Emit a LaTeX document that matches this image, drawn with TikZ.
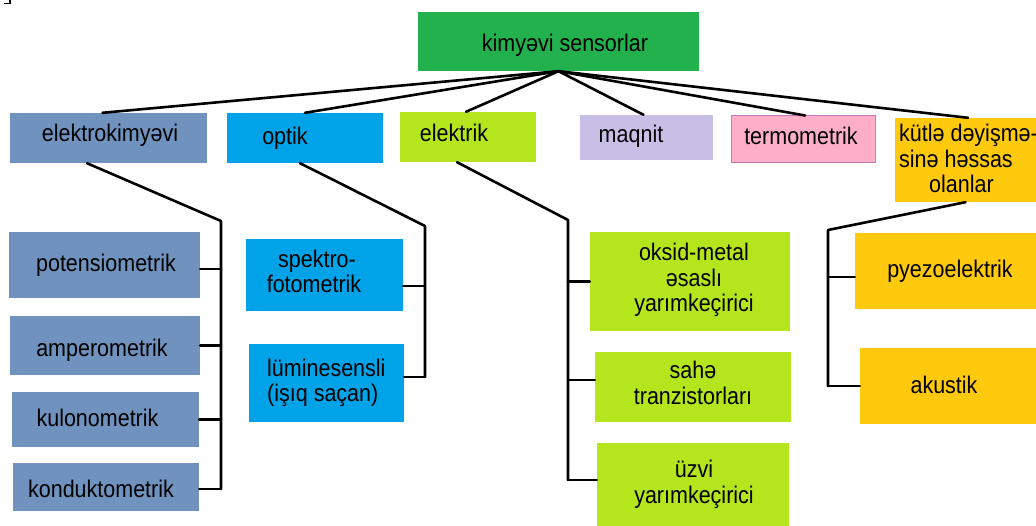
\documentclass[tikz,border=0pt]{standalone}
\usepackage{graphicx}
\usepackage{fontspec}
\setmainfont{Liberation Sans}
\definecolor{cRoot}{HTML}{22B14C}
\definecolor{cElk}{HTML}{7092BE}
\definecolor{cOpt}{HTML}{00A2E8}
\definecolor{cEle}{HTML}{B5E61D}
\definecolor{cMag}{HTML}{C8BFE7}
\definecolor{cTer}{HTML}{FFAEC9}
\definecolor{cTerEdge}{HTML}{C878B8}
\definecolor{cKut}{HTML}{FFC90E}
% slightly condensed-looking lettering: stretch each line vertically
\newcommand\tline[1]{\scalebox{1}[1.12]{#1}}
\begin{document}
\begin{tikzpicture}[x=1pt,y=-1pt,
  box/.style={rectangle, inner sep=0pt, draw=none},
  lbl/.style={anchor=base, inner sep=0pt, font=\fontsize{21.5}{25.5}\selectfont, align=center},
  wire/.style={line width=2.6pt, line cap=round, line join=round}]
\useasboundingbox (0,0) rectangle (1036,526);

% small corner mark
\draw[line width=1.5pt] (10,0) -- (10,3.5) -- (4,3.5);

% ---- boxes ----
\node[box, fill=cRoot, minimum width=281pt, minimum height=59pt] (root) at (558.5,41.5) {};

\node[box, fill=cElk, minimum width=197pt, minimum height=50pt] (elk) at (108.5,138) {};
\node[box, fill=cOpt, minimum width=156pt, minimum height=50pt] (opt) at (305,138) {};
\node[box, fill=cEle, minimum width=136pt, minimum height=50pt] (ele) at (468,137) {};
\node[box, fill=cMag, minimum width=133pt, minimum height=45pt] (mag) at (646.5,137.5) {};
\node[box, fill=cTer, draw=cTerEdge, line width=1pt, minimum width=144pt, minimum height=47pt] (ter) at (803,139.5) {};
\node[box, fill=cKut, minimum width=141pt, minimum height=84pt] (kut) at (965.5,160) {};

\node[box, fill=cElk, minimum width=191pt, minimum height=66pt] (pot) at (104.5,265) {};
\node[box, fill=cElk, minimum width=190pt, minimum height=59pt] (amp) at (105,345.5) {};
\node[box, fill=cElk, minimum width=187pt, minimum height=55pt] (kul) at (105.5,419.5) {};
\node[box, fill=cElk, minimum width=186pt, minimum height=48pt] (kon) at (106,487) {};

\node[box, fill=cOpt, minimum width=157pt, minimum height=72pt] (spe) at (324.5,275) {};
\node[box, fill=cOpt, minimum width=155pt, minimum height=78pt] (lum) at (326.5,383) {};

\node[box, fill=cEle, minimum width=200pt, minimum height=99pt] (oks) at (690,281.5) {};
\node[box, fill=cEle, minimum width=196pt, minimum height=70pt] (sah) at (693,387) {};
\node[box, fill=cEle, minimum width=192pt, minimum height=83pt] (uzv) at (693,484.5) {};

\node[box, fill=cKut, minimum width=181pt, minimum height=76pt] (pye) at (945.5,271) {};
\node[box, fill=cKut, minimum width=176pt, minimum height=76pt] (aku) at (948,386) {};

% ---- labels (base anchor = baseline of the last line) ----
\node[lbl] (troot) at (565,52) {\tline{kimyəvi sensorlar}};
\node[lbl] (telk) at (110,142) {\tline{elektrokimyəvi}};
\node[lbl] (topt) at (285,145) {\tline{optik}};
\node[lbl] (tele) at (454,142) {\tline{elektrik}};
\node[lbl] (tmag) at (631,143) {\tline{maqnit}};
\node[lbl] (tter) at (801,145) {\tline{termometrik}};
\node[lbl, anchor=base west, align=left] (tkut) at (899,193)
  {\tline{kütlə dəyişmə-}\\\tline{sinə həssas}\\\hspace*{30pt}\tline{olanlar}};

\node[lbl] (tpot) at (106,272) {\tline{potensiometrik}};
\node[lbl] (tamp) at (102,357) {\tline{amperometrik}};
\node[lbl] (tkul) at (97.5,426) {\tline{kulonometrik}};
\node[lbl] (tkon) at (101,497) {\tline{konduktometrik}};

\node[lbl] (tspe) at (314,293) {\hspace*{6pt}\tline{spektro-}\\\tline{fotometrik}};
\node[lbl, anchor=base west, align=left] (tlum) at (267,402) {\tline{lüminesensli}\\\tline{(işıq saçan)}};

\node[lbl] (toks) at (694,312) {\tline{oksid-metal}\\\tline{əsaslı}\\\tline{yarımkeçirici}};
\node[lbl] (tsah) at (693,404) {\tline{sahə}\\\tline{tranzistorları}};
\node[lbl] (tuzv) at (694,503) {\tline{üzvi}\\\tline{yarımkeçirici}};

\node[lbl] (tpye) at (950,278) {\tline{pyezoelektrik}};
\node[lbl] (taku) at (944,393) {\tline{akustik}};

% ---- connectors: root to first level ----
\draw[wire] (root.south) -- ([xshift=-6pt]elk.north);
\draw[wire] (root.south) -- (opt.north);
\draw[wire] (root.south) -- ([xshift=-2pt]ele.north);
\draw[wire] (root.south) -- ([xshift=-3pt]mag.north);
\draw[wire] (root.south) -- ([xshift=2pt]ter.north);
\draw[wire] (root.south) -- ([xshift=2.5pt]kut.north);

% ---- attachment points on the child boxes ----
\coordinate (potp) at ([yshift=-4pt]pot.east);
\coordinate (konp) at ([yshift=-2pt]kon.east);
\coordinate (spep) at ([yshift=-11pt]spe.east);
\coordinate (lump) at ([yshift=6pt]lum.east);
\coordinate (sahp) at ([yshift=7pt]sah.west);
\coordinate (uzvp) at ([yshift=4.5pt]uzv.west);
\coordinate (pyep) at ([yshift=-6pt]pye.west);

% ---- elektrokimyəvi branch ----
\coordinate (elkbus) at (221,221);
\draw[wire] ([xshift=-21.5pt]elk.south) -- (elkbus) -- (elkbus |- konp);
\draw[wire] (potp) -- (potp -| elkbus);
\draw[wire] (amp.east) -- (amp.east -| elkbus);
\draw[wire] (kul.east) -- (kul.east -| elkbus);
\draw[wire] (konp) -- (konp -| elkbus);

% ---- optik branch ----
\coordinate (optbus) at (425,226);
\draw[wire] ([xshift=-5pt]opt.south) -- (optbus) -- (optbus |- lump);
\draw[wire] (spep) -- (spep -| optbus);
\draw[wire] (lump) -- (lump -| optbus);

% ---- elektrik branch ----
\coordinate (elebus) at (568,220);
\draw[wire] ([xshift=-11pt]ele.south) -- (elebus) -- (elebus |- uzvp);
\draw[wire] (oks.west) -- (oks.west -| elebus);
\draw[wire] (sahp) -- (sahp -| elebus);
\draw[wire] (uzvp) -- (uzvp -| elebus);

% ---- kütlə branch ----
\coordinate (kutbus) at (828,230);
\draw[wire] (kut.south) -- (kutbus) -- (kutbus |- aku.west);
\draw[wire] (pyep) -- (pyep -| kutbus);
\draw[wire] (aku.west) -- (aku.west -| kutbus);
\end{tikzpicture}
\end{document}
